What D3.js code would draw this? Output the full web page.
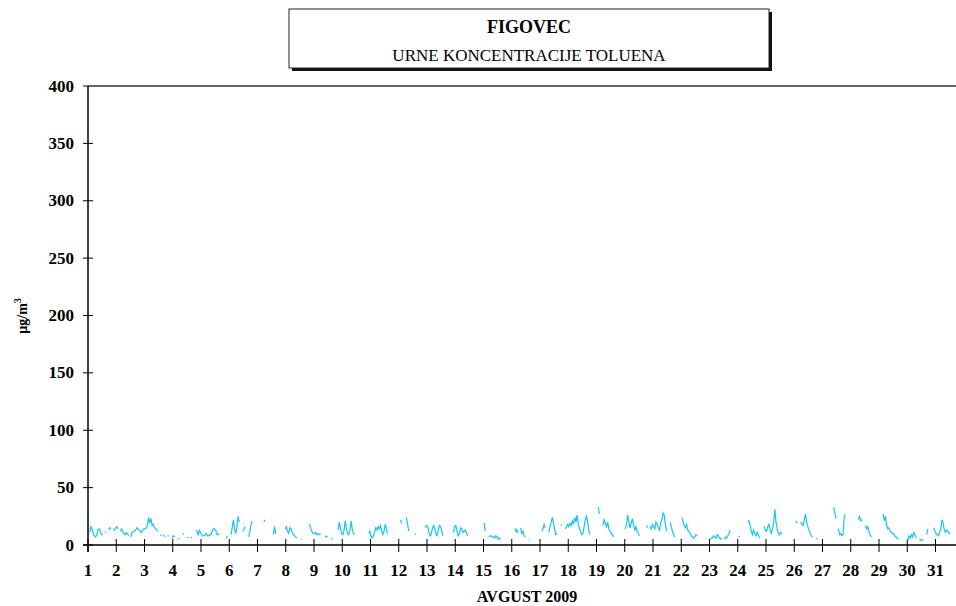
<!DOCTYPE html>
<html>
<head>
<meta charset="utf-8">
<script src="https://cdn.jsdelivr.net/npm/d3@7"></script>
<style>
  body { margin: 0; background: #fff; }
  svg { display: block; }
  text { font-family: "Liberation Serif", "DejaVu Serif", serif; }
</style>
</head>
<body>
<svg id="chart" width="956" height="606"></svg>
<script>
// hourly toluene concentrations, ug/m3, August 2009 (null = missing hour)
const days = d3.range(1, 32);
const yTicks = [0, 50, 100, 150, 200, 250, 300, 350, 400];
const toluen = [
  // 1
  null,11,16,14,10,8,7,9,13,14,12,9,9,null,11,11,null,13,15,14,null,14,13,15,
  // 2
  16,14,null,12,14,12,10,9,11,10,8,null,7,11,12,12,13,15,14,13,12,11,13,14,
  // 3
  14,15,17,24,19,23,17,18,15,14,13,12,null,8,9,null,9,7,null,8,8,null,null,6,
  // 4
  8,7,null,null,5,6,null,null,10,9,null,null,7,6,null,6,7,null,null,13,12,9,13,11,
  // 5
  9,8,8,9,10,8,8,9,9,12,14,14,13,9,9,10,null,null,null,null,null,6,8,null,
  // 6
  null,9,15,22,14,10,16,25,20,null,null,12,14,16,null,null,7,12,18,21,null,null,null,null,
  // 7
  null,null,null,null,null,20,22,null,null,null,null,null,null,9,16,10,null,null,null,null,null,null,null,14,
  // 8
  16,12,10,15,14,11,9,8,7,6,null,null,5,5,null,null,null,null,null,18,17,14,11,10,
  // 9
  10,11,9,10,9,10,null,null,null,8,7,8,null,null,6,5,null,null,null,null,13,20,15,10,
  // 10
  9,13,21,15,10,9,12,21,14,10,9,null,null,null,null,null,null,null,null,null,null,null,10,12,
  // 11
  7,6,8,11,15,13,16,14,17,12,9,12,18,14,10,null,null,null,null,null,null,null,null,null,
  // 12
  null,22,19,null,null,null,24,18,12,null,null,null,null,10,9,null,null,null,null,null,null,null,15,17,
  // 13
  16,12,8,9,14,17,15,10,8,13,17,16,12,8,null,null,null,null,null,null,null,null,11,16,
  // 14
  17,12,8,10,15,14,11,12,13,11,8,null,null,null,null,null,null,null,null,null,null,null,null,null,
  // 15
  19,12,null,null,7,8,8,7,7,6,8,7,5,6,5,null,null,null,null,null,null,null,null,null,
  // 16
  null,null,12,14,11,13,null,15,10,12,8,7,null,null,5,5,null,null,null,null,null,null,null,null,
  // 17
  null,12,14,18,15,null,null,11,16,20,24,19,13,9,10,null,null,17,18,null,null,14,16,18,
  // 18
  16,19,17,21,18,24,20,26,19,14,12,9,10,16,22,25,20,12,9,null,null,null,null,null,
  // 19
  null,33,27,null,null,17,22,19,16,20,14,12,10,9,7,null,null,null,null,null,null,null,null,null,
  // 20
  14,18,26,20,15,19,23,17,13,16,12,10,8,null,null,null,null,null,15,17,null,16,14,18,
  // 21
  16,14,20,18,15,13,19,22,28,26,18,12,null,null,20,16,12,9,7,null,null,null,null,null,
  // 22
  24,20,17,15,18,13,12,10,8,7,6,7,9,8,null,null,null,null,null,null,null,null,null,null,
  // 23
  5,6,6,8,7,6,9,8,6,5,6,null,5,7,6,8,10,13,null,null,null,null,null,null,
  // 24
  8,7,null,null,null,null,null,null,20,21,17,12,9,13,10,8,11,9,6,null,null,null,16,13,
  // 25
  12,16,18,13,10,14,19,31,20,14,10,9,11,10,null,null,null,null,null,null,null,null,null,null,
  // 26
  null,21,19,null,null,20,18,17,22,27,20,16,13,10,8,7,null,null,6,5,null,null,null,null,
  // 27
  null,null,null,null,null,null,null,null,null,33,28,23,null,14,9,10,8,9,25,27,null,null,null,null,
  // 28
  null,null,null,null,null,null,22,25,21,22,null,null,17,14,16,12,9,7,null,null,null,null,null,null,
  // 29
  null,null,null,27,21,25,17,14,15,12,11,10,10,8,7,6,5,null,null,null,null,null,null,null,
  // 30
  4,8,6,9,7,11,9,6,null,null,5,4,5,4,null,null,9,14,null,null,null,null,15,12,
  // 31
  10,9,8,11,14,22,19,13,11,13,12,10,11,null,null,null,null,null,null,null,null,null,null,null
];

const serif = '"Liberation Serif", "DejaVu Serif", serif';
const svg = d3.select('#chart');
const plotLeft = 88, plotTop = 86, plotBottom = 545;

const x = d3.scaleLinear().domain([1, 32]).range([plotLeft, 963.75]);
const y = d3.scaleLinear().domain([0, 400]).range([plotBottom, plotTop]);

// title box with shadow
const box = { x: 289, y: 9, w: 480, h: 59 };
svg.append('rect')
    .attr('x', box.x + 3).attr('y', box.y + 3)
    .attr('width', box.w).attr('height', box.h)
    .attr('fill', '#111');
svg.append('rect')
    .attr('x', box.x).attr('y', box.y)
    .attr('width', box.w).attr('height', box.h)
    .attr('fill', '#fff').attr('stroke', '#222').attr('stroke-width', 1);
svg.append('text')
    .attr('x', box.x + box.w / 2).attr('y', 33)
    .attr('text-anchor', 'middle').attr('font-family', serif)
    .attr('font-size', 18).attr('font-weight', 'bold')
    .text('FIGOVEC');
svg.append('text')
    .attr('x', box.x + box.w / 2).attr('y', 61)
    .attr('text-anchor', 'middle').attr('font-family', serif)
    .attr('font-size', 17)
    .text('URNE KONCENTRACIJE TOLUENA');

// top border of plot area
svg.append('line')
    .attr('x1', plotLeft).attr('x2', 956)
    .attr('y1', plotTop).attr('y2', plotTop)
    .attr('stroke', '#333').attr('stroke-width', 1.5);

// y axis
svg.append('line')
    .attr('x1', plotLeft).attr('x2', plotLeft)
    .attr('y1', plotTop).attr('y2', 552)
    .attr('stroke', '#000').attr('stroke-width', 1.5);
svg.selectAll('.ytick')
    .data(yTicks)
    .join('line')
    .attr('class', 'ytick')
    .attr('x1', plotLeft - 5).attr('x2', d => d === 400 ? plotLeft : plotLeft + 5)
    .attr('y1', d => y(d)).attr('y2', d => y(d))
    .attr('stroke', '#000').attr('stroke-width', 1);
svg.selectAll('.ylab')
    .data(yTicks)
    .join('text')
    .attr('class', 'ylab')
    .attr('x', 74).attr('y', d => y(d) + 5.5)
    .attr('text-anchor', 'end').attr('font-family', serif)
    .attr('font-size', 17).attr('font-weight', 'bold')
    .text(d => d);

// x axis
svg.append('line')
    .attr('x1', plotLeft - 5).attr('x2', 956)
    .attr('y1', plotBottom).attr('y2', plotBottom)
    .attr('stroke', '#000').attr('stroke-width', 1.5);
svg.selectAll('.xtick')
    .data(days)
    .join('line')
    .attr('class', 'xtick')
    .attr('x1', d => x(d)).attr('x2', d => x(d))
    .attr('y1', plotBottom - 6).attr('y2', plotBottom + 7)
    .attr('stroke', '#000').attr('stroke-width', 1);
svg.selectAll('.xlab')
    .data(days)
    .join('text')
    .attr('class', 'xlab')
    .attr('x', d => x(d)).attr('y', 576)
    .attr('text-anchor', 'middle').attr('font-family', serif)
    .attr('font-size', 17).attr('font-weight', 'bold')
    .text(d => d);

svg.append('text')
    .attr('x', 527).attr('y', 602)
    .attr('text-anchor', 'middle').attr('font-family', serif)
    .attr('font-size', 16).attr('font-weight', 'bold')
    .text('AVGUST 2009');

// y axis title
const yt = svg.append('text')
    .attr('transform', 'translate(27,316) rotate(-90)')
    .attr('text-anchor', 'middle').attr('font-family', serif)
    .attr('font-size', 14).attr('font-weight', 'bold');
yt.append('tspan').text('µg/m');
yt.append('tspan').attr('dy', -6).attr('font-size', 10).text('3');

// data line
const line = d3.line()
    .defined(d => d != null)
    .x((d, i) => x(1 + (i + 0.5) / 24))
    .y(d => y(d));

svg.append('path')
    .datum(toluen)
    .attr('fill', 'none')
    .attr('stroke', '#17c4f2')
    .attr('stroke-width', 1.2)
    .attr('d', line);
</script>
</body>
</html>
